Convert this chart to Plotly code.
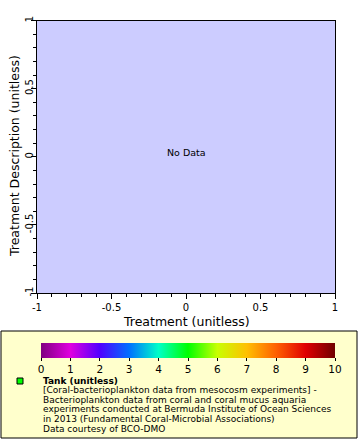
import plotly.graph_objects as go

# Data (none: "No Data" chart)
x_vals = [None]
y_vals = [None]
x_range = [-1, 1]
y_range = [-1, 1]
tick_vals = [-1, -0.5, 0, 0.5, 1]
tick_text = ["-1", "-0.5", "0", "0.5", "1"]
cbar_ticks = [0, 1, 2, 3, 4, 5, 6, 7, 8, 9, 10]
cbar_colors = ["#800080", "#e000e0", "#5000ff", "#0070ff", "#00ffc8", "#00ff00",
               "#c8ff00", "#ffc000", "#ff6000", "#e00000", "#700000"]
x_title = "Treatment (unitless)"
y_title = "Treatment Description (unitless)"
legend_title = "Tank (unitless)"
legend_lines = [
    "[Coral-bacterioplankton data from mesocosm experiments] -",
    "Bacterioplankton data from coral and coral mucus aquaria",
    "experiments conducted at Bermuda Institute of Ocean Sciences",
    "in 2013 (Fundamental Coral-Microbial Associations)",
    "Data courtesy of BCO-DMO",
]

W, H = 360, 440
FONT = "DejaVu Sans"

def px_x(p):
    return p / W

def px_y(p):
    return 1 - p / H

colorscale = [[i / (len(cbar_colors) - 1), c] for i, c in enumerate(cbar_colors)]

fig = go.Figure()
fig.add_trace(go.Scatter(
    x=x_vals, y=y_vals, mode="markers",
    marker=dict(color=[0], cmin=0, cmax=10, colorscale=colorscale, showscale=True,
                colorbar=dict(orientation="h", x=px_x(188), xanchor="center",
                              y=px_y(343), yanchor="top", len=294 / W, lenmode="fraction",
                              thickness=15, thicknessmode="pixels", xpad=0, ypad=0,
                              outlinewidth=0, ticks="outside", ticklen=3, tickwidth=1,
                              tickcolor="black", tickvals=cbar_ticks,
                              tickfont=dict(family=FONT, size=10.5, color="black"))),
    showlegend=False, hoverinfo="skip"))

axis_common = dict(
    showgrid=False, zeroline=False, showline=True, linecolor="black", linewidth=1,
    mirror=True, ticks="outside", ticklen=5, tickcolor="black",
    tickmode="array", tickvals=tick_vals, ticktext=tick_text, automargin=False,
    minor=dict(dtick=0.1, ticks="outside", ticklen=3, tickcolor="black", showgrid=False),
    tickfont=dict(family=FONT, size=10, color="black"),
)

fig.update_layout(
    width=W, height=H,
    margin=dict(l=0, r=0, t=0, b=0, autoexpand=False),
    paper_bgcolor="white", plot_bgcolor="#ccccff",
    font=dict(family=FONT, color="black"),
    xaxis=dict(range=x_range, domain=[px_x(37), px_x(335)], **axis_common),
    yaxis=dict(range=y_range, domain=[px_y(293), px_y(20.5)], tickangle=-90,
               ticklabelstandoff=-6, **axis_common),
    showlegend=False,
)

# axis titles
fig.add_annotation(x=px_x(186), y=px_y(321), xref="paper", yref="paper", text=x_title,
                   showarrow=False, xanchor="center", yanchor="middle",
                   font=dict(family=FONT, size=12.5, color="black"))
fig.add_annotation(x=px_x(15), y=px_y(156), xref="paper", yref="paper", text=y_title,
                   showarrow=False, xanchor="center", yanchor="middle", textangle=-90,
                   font=dict(family=FONT, size=12.5, color="black"))

fig.add_annotation(x=0, y=0, xref="x", yref="y", text="No Data", showarrow=False,
                   yshift=4, font=dict(family=FONT, size=9.5, color="black"))

# legend box
fig.add_shape(type="rect", xref="paper", yref="paper",
              x0=px_x(1), x1=px_x(357), y0=px_y(438), y1=px_y(331),
              line=dict(color="black", width=1), fillcolor="#ffffcc", layer="below")
# legend swatch
fig.add_shape(type="rect", xref="paper", yref="paper",
              x0=px_x(17), x1=px_x(23), y0=px_y(384), y1=px_y(378),
              line=dict(color="black", width=1), fillcolor="#00ff00")

fig.add_annotation(x=px_x(41), y=px_y(380.5), xref="paper", yref="paper",
                   text="<b>" + legend_title + "</b>", showarrow=False,
                   xanchor="left", yanchor="middle",
                   font=dict(family=FONT, size=9, color="black"))
for i, line in enumerate(legend_lines):
    fig.add_annotation(x=px_x(41), y=px_y(390 + 9.7 * i), xref="paper", yref="paper",
                       text=line, showarrow=False, xanchor="left", yanchor="middle",
                       font=dict(family=FONT, size=9, color="black"))

fig.write_html("out.html", config={"displayModeBar": False},
               post_script="document.body.style.margin='0';")
